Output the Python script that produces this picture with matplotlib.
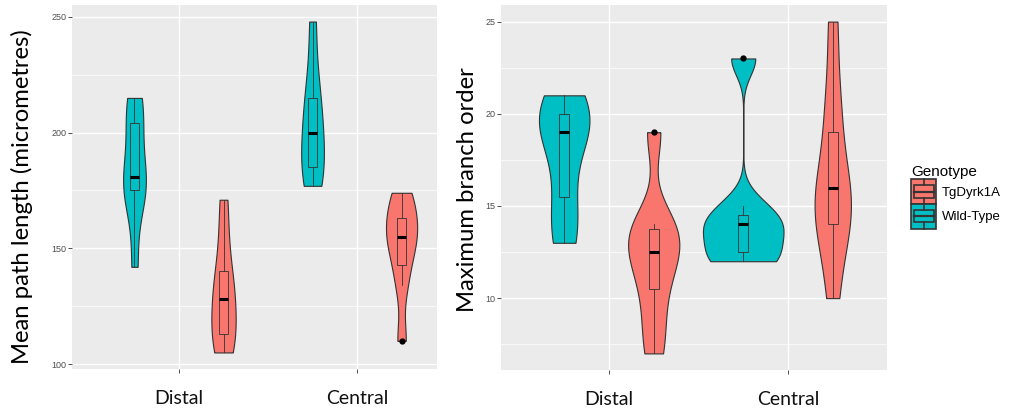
"""
Violin + boxplot panels: mean path length and maximum branch order
by region and genotype (ggplot-like look).
"""

import numpy as np
import matplotlib
matplotlib.use("Agg")
import matplotlib.pyplot as plt
from matplotlib.patches import Rectangle, Patch
from matplotlib.lines import Line2D

REGIONS = ["Distal", "Central"]
GENOTYPES = ["Wild-Type", "TgDyrk1A"]          # order inside each region (left, right)
LEGEND_ORDER = ["TgDyrk1A", "Wild-Type"]
COLORS = {"TgDyrk1A": "#F8766D", "Wild-Type": "#00BFC4"}

# Mean path length (micrometres)
path_distal_wt = [142, 172, 176, 178, 184, 202, 210, 215]
path_distal_tg = [105, 110, 114, 124, 132, 136, 152, 171]
path_central_wt = [177, 182, 186, 196, 204, 212, 224, 248]
path_central_tg = [110, 134, 146, 152, 158, 161, 169, 174]

# Maximum branch order
branch_distal_wt = [13, 14, 16, 19, 19, 20, 20, 21]
branch_distal_tg = [7, 9, 11, 12, 13, 13.7, 14, 19]
branch_central_wt = [12, 12, 13, 14, 14, 15, 23]
branch_central_tg = [10, 13, 14, 15, 16, 16, 19, 21, 25]

PATH_TICKS = [100, 150, 200, 250]
BRANCH_TICKS = [10, 15, 20, 25]

BG = "#EBEBEB"
EDGE = "#333333"
FONT_BIG = "Lato"
FONT_SMALL = "Liberation Sans"


def kde(values, grid):
    """Gaussian KDE with R's bw.nrd0 bandwidth."""
    v = np.asarray(values, float)
    n = len(v)
    sd = v.std(ddof=1)
    q75, q25 = np.percentile(v, [75, 25])
    bw = 0.9 * min(sd, (q75 - q25) / 1.34) * n ** -0.2
    z = (grid[:, None] - v[None, :]) / bw
    return np.exp(-0.5 * z ** 2).sum(axis=1) / (n * bw * np.sqrt(2 * np.pi))


def draw_panel(ax, groups, yticks, max_width, xlim, ylabel, label_x, label_y):
    ax.set_facecolor(BG)
    for s in ax.spines.values():
        s.set_visible(False)

    # densities (trimmed to data range), scaled by the panel maximum ("area")
    curves = {}
    for key, vals in groups.items():
        grid = np.linspace(min(vals), max(vals), 400)
        curves[key] = (grid, kde(vals, grid))
    dmax = max(d.max() for _, d in curves.values())

    for (ri, gi), vals in groups.items():
        pos = ri + 1 + (-0.25 if gi == 0 else 0.25)
        color = COLORS[GENOTYPES[gi]]
        grid, dens = curves[(ri, gi)]
        half = dens / dmax * max_width / 2
        ax.fill_betweenx(grid, pos - half, pos + half, facecolor=color,
                         edgecolor=EDGE, linewidth=0.8, zorder=3)
        ax.boxplot([vals], positions=[pos], widths=0.055, patch_artist=True,
                   manage_ticks=False, showcaps=False,
                   boxprops=dict(facecolor=color, edgecolor=EDGE, linewidth=0.6),
                   whiskerprops=dict(color=EDGE, linewidth=0.6),
                   medianprops=dict(color="black", linewidth=2.2),
                   flierprops=dict(marker="o", markerfacecolor="black",
                                   markeredgecolor="black", markersize=3.5),
                   zorder=4)

    ax.set_yticks(yticks)
    minor = [(a + b) / 2 for a, b in zip(yticks[:-1], yticks[1:])]
    minor = [yticks[0] - (yticks[1] - yticks[0]) / 2] + minor
    ax.set_yticks(minor, minor=True)
    ax.set_xticks([1, 2])
    ax.set_xticklabels(REGIONS, fontsize=14, family=FONT_BIG, color="#111111")

    allv = np.concatenate([np.asarray(v, float) for v in groups.values()])
    pad = (allv.max() - allv.min()) * 0.05
    ax.set_ylim(allv.min() - pad, allv.max() + pad)
    ax.set_xlim(*xlim)

    ax.grid(True, which="major", color="white", linewidth=1.0, zorder=0)
    ax.grid(True, which="minor", axis="y", color="white", linewidth=0.5, zorder=0)
    ax.set_axisbelow(True)
    ax.tick_params(axis="y", which="major", length=3, width=0.6, color=EDGE,
                   labelsize=6.5, labelcolor="#4D4D4D", pad=1)
    ax.tick_params(axis="y", which="minor", length=0)
    ax.tick_params(axis="x", length=3, width=0.6, color=EDGE, pad=12)
    for lab in ax.get_yticklabels():
        lab.set_family(FONT_SMALL)

    ax.text(label_x, label_y, ylabel, transform=ax.transAxes, rotation=90,
            ha="center", va="center", fontsize=17.2, family=FONT_BIG, color="black")


class ViolinKeyHandler:
    """Legend key: filled violin rectangle with a boxplot glyph on top."""

    def legend_artist(self, legend, orig_handle, fontsize, handlebox):
        x0, y0 = -handlebox.xdescent, -handlebox.ydescent
        w, h = handlebox.width, handlebox.height
        fc = orig_handle.get_facecolor()
        tr = handlebox.get_transform()
        arts = [
            Rectangle((x0, y0), w, h, facecolor=fc, edgecolor=EDGE, linewidth=1.2),
            Rectangle((x0 + 0.1 * w, y0 + 0.25 * h), 0.8 * w, 0.5 * h,
                      facecolor=fc, edgecolor=EDGE, linewidth=1.2),
            Line2D([x0 + 0.1 * w, x0 + 0.9 * w], [y0 + 0.5 * h] * 2, color=EDGE, lw=1.6),
            Line2D([x0 + 0.5 * w] * 2, [y0, y0 + 0.25 * h], color=EDGE, lw=1.2),
            Line2D([x0 + 0.5 * w] * 2, [y0 + 0.75 * h, y0 + h], color=EDGE, lw=1.2),
        ]
        for a in arts:
            a.set_transform(tr)
            handlebox.add_artist(a)
        return arts[0]


W, H = 1011, 412
fig = plt.figure(figsize=(W / 100, H / 100), dpi=100)
fig.patch.set_facecolor("white")

ax1 = fig.add_axes([72 / W, 1 - 369 / H, 365 / W, 364 / H])
ax2 = fig.add_axes([501 / W, 1 - 370 / H, 386 / W, 365 / H])

path_groups = {
    (0, 0): path_distal_wt, (0, 1): path_distal_tg,
    (1, 0): path_central_wt, (1, 1): path_central_tg,
}
branch_groups = {
    (0, 0): branch_distal_wt, (0, 1): branch_distal_tg,
    (1, 0): branch_central_wt, (1, 1): branch_central_tg,
}

draw_panel(ax1, path_groups, PATH_TICKS, 0.175, (0.399, 2.449),
           "Mean path length (micrometres)", -0.137, 0.4725)
draw_panel(ax2, branch_groups, BRANCH_TICKS, 0.45, (0.397, 2.553),
           "Maximum branch order", -0.088, 0.493)

handles = [Patch(facecolor=COLORS[g]) for g in LEGEND_ORDER]
leg = fig.legend(handles, LEGEND_ORDER, handler_map={Patch: ViolinKeyHandler()},
                 loc="upper left", bbox_to_anchor=(906 / W, 1 - 160 / H),
                 frameon=False, title="Genotype", alignment="left",
                 prop={"family": FONT_SMALL, "size": 9.5},
                 title_fontproperties={"family": FONT_SMALL, "size": 11},
                 handlelength=1.9, handleheight=2.5, labelspacing=0.0,
                 handletextpad=0.4, borderaxespad=0)

fig.savefig("out.png", dpi=100, facecolor="white")
